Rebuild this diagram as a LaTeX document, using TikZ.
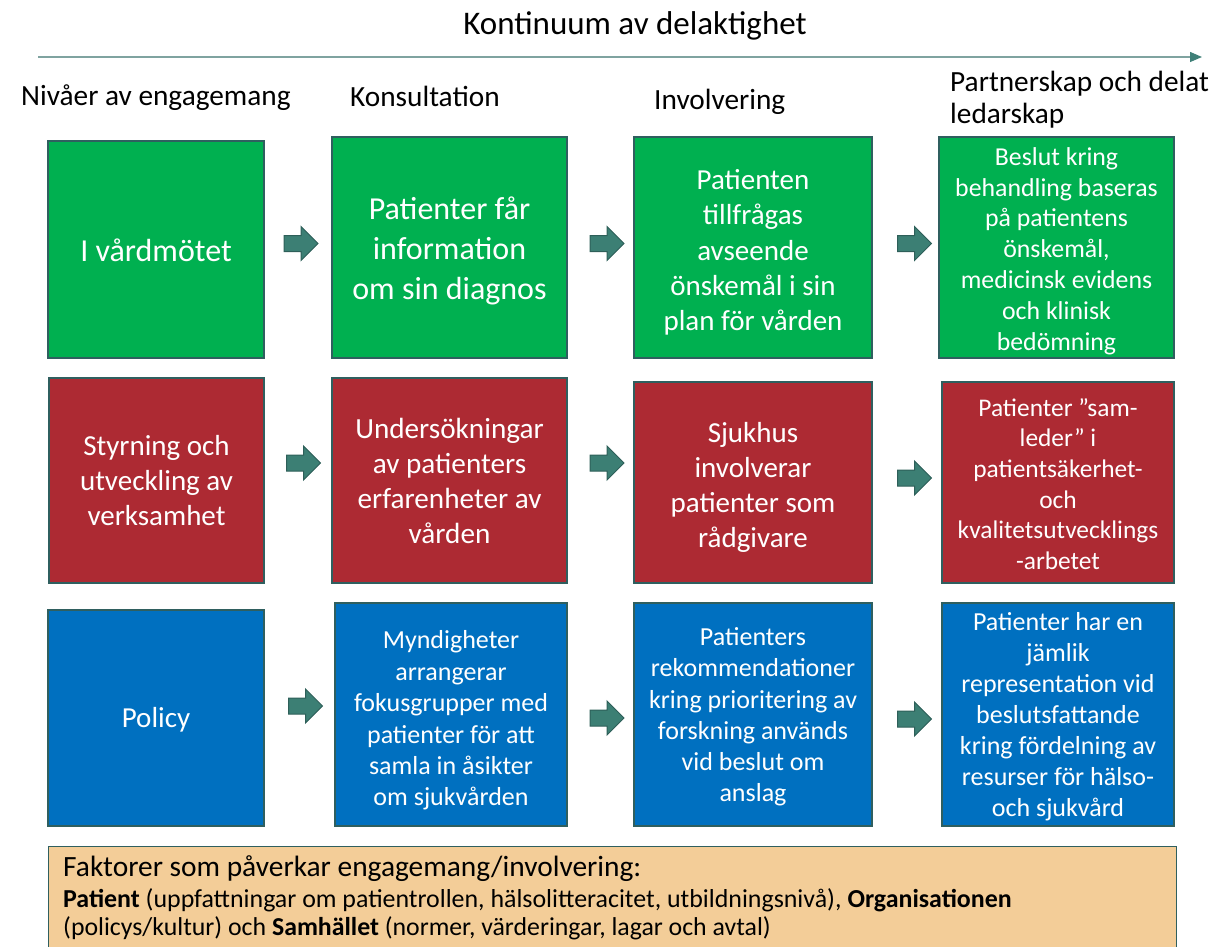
\documentclass[tikz,border=0pt]{standalone}
\usepackage{fontspec}
\setmainfont{Carlito}
\usetikzlibrary{shapes.arrows,arrows.meta}
\definecolor{boxgreen}{HTML}{00B050}
\definecolor{boxred}{HTML}{AD2A33}
\definecolor{boxblue}{HTML}{0070C0}
\definecolor{peach}{HTML}{F3CD98}
\definecolor{edgecol}{HTML}{2F5F5F}
\definecolor{arrfill}{HTML}{3C7F74}
\definecolor{arredge}{HTML}{2E5F59}
\definecolor{axiscol}{HTML}{7FA3A0}
\definecolor{axishead}{HTML}{3F8078}
\newcommand\setfs[2]{\fontsize{#1}{#2}\selectfont}
\tikzset{
  card/.style={draw=edgecol, line width=1.4pt, inner sep=0pt},
  cardtext/.style={text=white, align=center, inner sep=0pt},
  blockarr/.style={shape=single arrow, draw=arredge, fill=arrfill, line width=1pt,
    single arrow head extend=9pt, single arrow tip angle=90, minimum height=34pt,
    inner xsep=0pt, inner ysep=7.5pt, text height=0pt, text depth=0pt, outer sep=0pt},
  hdr/.style={anchor=base west, inner sep=0pt, font=\setfs{29.3}{35}},
  foot/.style={anchor=base west, inner sep=0pt},
}
\begin{document}
\begin{tikzpicture}[x=1pt,y=-1pt]
\useasboundingbox (0,0) rectangle (1219,947);
\clip (0,0) rectangle (1219,947);

% title and axis
\node[anchor=base, inner sep=0pt, font=\setfs{33}{40}] (title) at (635,35) {Kontinuum av delaktighet};
\coordinate (axL) at (38,57);
\coordinate (axR) at (1202,57);
\draw[axiscol, line width=1.3pt, -{Triangle[length=12pt,width=10pt,color=axishead]}] (axL) -- (axR);

% headers
\node[hdr] (h1) at (21,106) {Nivåer av engagemang};
\node[hdr] (h2) at (350,107) {Konsultation};
\node[hdr] (h3) at (654,110) {Involvering};
\node[hdr] (h4) at (950,92) {Partnerskap och delat};
\node[hdr] (h4b) at (950,124) {ledarskap};

% row 1
\node[card, fill=boxgreen, minimum width=216pt, minimum height=217pt] (a1) at (156,249.5) {};
\node[card, fill=boxgreen, minimum width=235pt, minimum height=221pt] (b1) at (449.5,247.5) {};
\node[card, fill=boxgreen, minimum width=238pt, minimum height=221pt] (c1) at (753,247.5) {};
\node[card, fill=boxgreen, minimum width=235pt, minimum height=221pt] (d1) at (1056.5,247.5) {};
\node[cardtext, font=\setfs{32}{40}] (a1t) at ([yshift=-1pt]a1.center) {I vårdmötet};
\node[cardtext, font=\setfs{32}{40}] (b1t) at ([yshift=-3pt]b1.center) {Patienter får\\information\\om sin diagnos};
\node[cardtext, font=\setfs{29}{35.3}] (c1t) at ([yshift=-5pt]c1.center) {Patienten\\tillfrågas\\avseende\\önskemål i sin\\plan för vården};
\node[cardtext, font=\setfs{25.8}{30.8}] (d1t) at ([yshift=-3.5pt]d1.center) {Beslut kring\\behandling baseras\\på patientens\\önskemål,\\medicinsk evidens\\och klinisk\\bedömning};

% row 2
\node[card, fill=boxred, minimum width=215pt, minimum height=205pt] (a2) at (156.5,480.5) {};
\node[card, fill=boxred, minimum width=235pt, minimum height=205pt] (b2) at (449.5,480.5) {};
\node[card, fill=boxred, minimum width=238pt, minimum height=201pt] (c2) at (753,482.5) {};
\node[card, fill=boxred, minimum width=232pt, minimum height=201pt] (d2) at (1058,482.5) {};
\node[cardtext, font=\setfs{29}{35}] (a2t) at (a2.center) {Styrning och\\utveckling av\\verksamhet};
\node[cardtext, font=\setfs{29.2}{35.3}] (b2t) at ([yshift=-0.5pt]b2.center) {Undersökningar\\av patienters\\erfarenheter av\\vården};
\node[cardtext, font=\setfs{29}{35}] (c2t) at ([yshift=-4.5pt]c2.center) {Sjukhus\\involverar\\patienter som\\rådgivare};
\node[cardtext, font=\setfs{25.4}{30.6}] (d2t) at ([yshift=-1.5pt]d2.center) {Patienter ”sam-\\leder” i\\patientsäkerhet-\\och\\kvalitetsutvecklings\\-arbetet};

% row 3
\node[card, fill=boxblue, minimum width=216pt, minimum height=216pt] (a3) at (156,718) {};
\node[card, fill=boxblue, minimum width=232pt, minimum height=223pt] (b3) at (451,714.5) {};
\node[card, fill=boxblue, minimum width=238pt, minimum height=223pt] (c3) at (753,714.5) {};
\node[card, fill=boxblue, minimum width=232pt, minimum height=223pt] (d3) at (1058,714.5) {};
\node[cardtext, font=\setfs{29}{35}] (a3t) at ([yshift=-2pt]a3.center) {Policy};
\node[cardtext, font=\setfs{26}{31.4}] (b3t) at ([yshift=-6pt]b3.center) {Myndigheter\\arrangerar\\fokusgrupper med\\patienter för att\\samla in åsikter\\om sjukvården};
\node[cardtext, font=\setfs{26}{31.2}] (c3t) at ([yshift=-2.5pt]c3.center) {Patienters\\rekommendationer\\kring prioritering av\\forskning används\\vid beslut om\\anslag};
\node[cardtext, font=\setfs{26}{31}] (d3t) at ([yshift=-2.5pt]d3.center) {Patienter har en\\jämlik\\representation vid\\beslutsfattande\\kring fördelning av\\resurser för hälso-\\och sjukvård};

% block arrows
\node[blockarr] (ar11) at (297,243.5) {};
\node[blockarr] (ar12) at (603,243.5) {};
\node[blockarr] (ar13) at (910.5,243.5) {};
\node[blockarr] (ar21) at (299.5,463) {};
\node[blockarr] (ar22) at (603,463) {};
\node[blockarr] (ar23) at (910.5,478) {};
\node[blockarr] (ar31) at (301.5,706) {};
\node[blockarr] (ar32) at (603,718) {};
\node[blockarr] (ar33) at (910.5,719) {};

% factors box
\node[draw=edgecol, line width=1.4pt, fill=peach, minimum width=1128pt, minimum height=120pt, anchor=north west, inner sep=0pt] (factors) at (48,846) {};
\node[foot, font=\setfs{29.4}{34}] (f1) at (63,876) {Faktorer som påverkar engagemang/involvering:};
\node[foot, font=\setfs{25.9}{30}] (f2) at (63,907) {\textbf{Patient} (uppfattningar om patientrollen, hälsolitteracitet, utbildningsnivå), \textbf{Organisationen}};
\node[foot, font=\setfs{25.8}{30}] (f3) at (63,935) {(policys/kultur) och \textbf{Samhället} (normer, värderingar, lagar och avtal)};
\end{tikzpicture}
\end{document}
